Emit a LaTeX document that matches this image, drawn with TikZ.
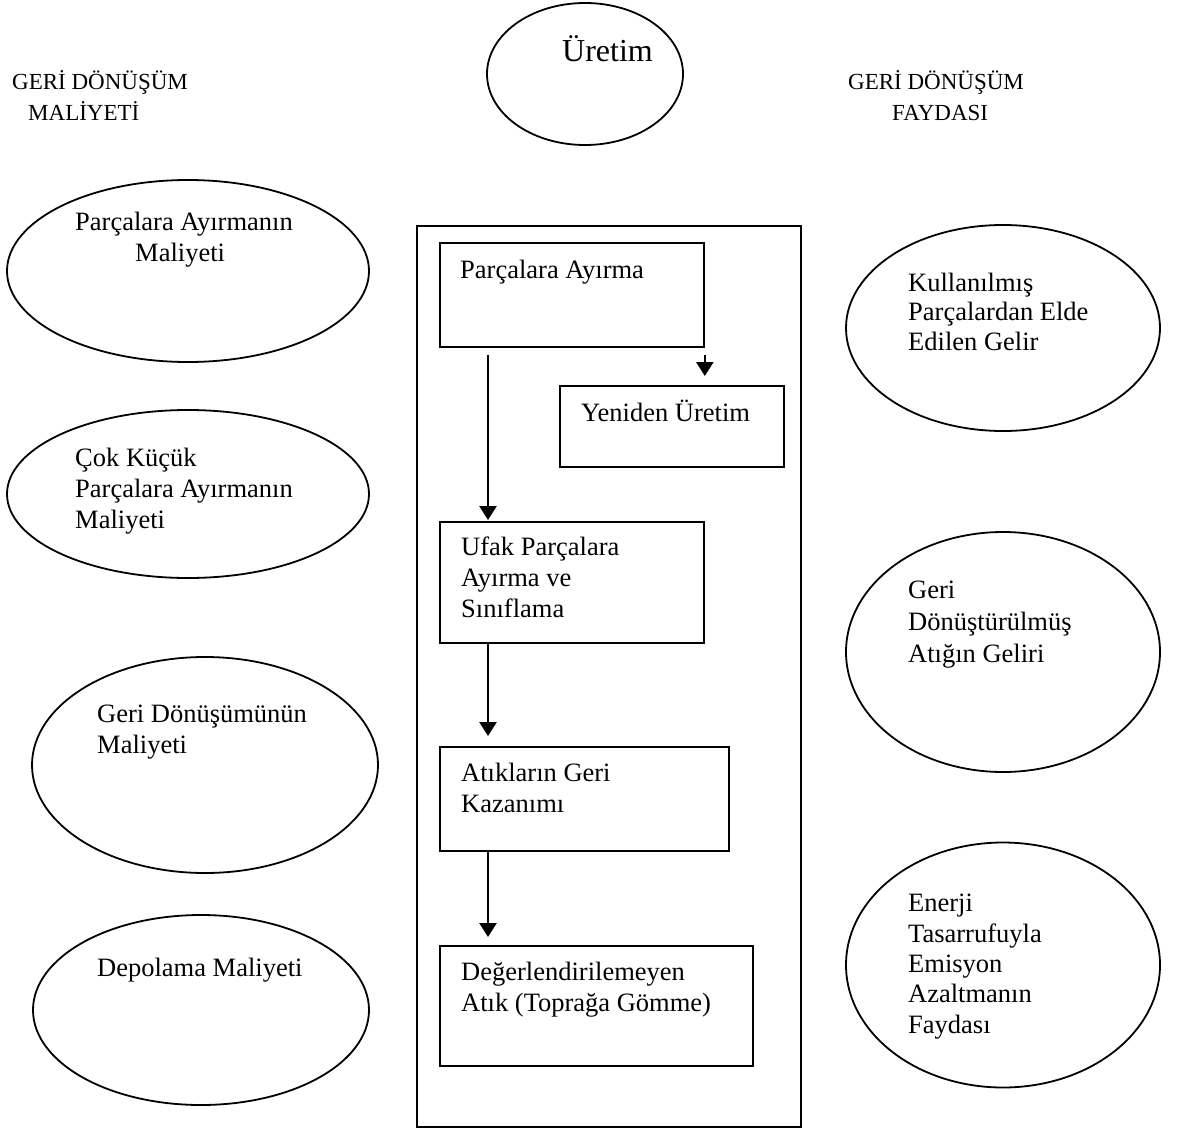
\documentclass[tikz,border=0pt]{standalone}
\usepackage{fontspec}
\setmainfont{Liberation Serif}
\usetikzlibrary{shapes.geometric,arrows.meta,calc}
\begin{document}
\begin{tikzpicture}[x=1pt,y=-1pt,
  oval/.style={draw,ellipse,line width=1.8pt,inner sep=0pt},
  stage/.style={draw,rectangle,line width=1.8pt,inner sep=0pt,anchor=north west},
  % multi-line labels are placed by the baseline of their last line
  lbl/.style={inner sep=0pt,anchor=base west,align=left,font=\fontsize{26.5pt}{31pt}\selectfont},
  head/.style={inner sep=0pt,anchor=base west,align=left,font=\fontsize{23pt}{31pt}\selectfont},
  flow/.style={line width=2.5pt,-{Triangle[width=17pt,length=14pt]}}
]
\useasboundingbox (0,0) rectangle (1182,1129);

% column headings
\node[head] (hcost) at (12,121) {GERİ DÖNÜŞÜM\\\hspace*{16pt}MALİYETİ};
\node[head] (hgain) at (848,121) {GERİ DÖNÜŞÜM\\\hspace*{44pt}FAYDASI};

% production
\node[oval,minimum width=196pt,minimum height=142pt] (uretim) at (585,74) {};
\node[inner sep=0pt,anchor=base west,font=\fontsize{32pt}{38pt}\selectfont] (turetim) at (562,62) {Üretim};

% cost ellipses
\node[oval,minimum width=362pt,minimum height=182pt] (c1) at (188,271) {};
\node[lbl] (tc1) at (75,261) {Parçalara Ayırmanın\\\hspace*{60pt}Maliyeti};
\node[oval,minimum width=362pt,minimum height=168pt] (c2) at (188,494) {};
\node[lbl] (tc2) at (75,528) {Çok Küçük\\Parçalara Ayırmanın\\Maliyeti};
\node[oval,minimum width=346pt,minimum height=216pt] (c3) at (205,765) {};
\node[lbl] (tc3) at (97,753) {Geri Dönüşümünün\\Maliyeti};
\node[oval,minimum width=336pt,minimum height=190pt] (c4) at (201,1010) {};
\node[lbl] (tc4) at (97,976) {Depolama Maliyeti};

% benefit ellipses
\node[oval,minimum width=314pt,minimum height=206pt] (g1) at (1003,328) {};
\node[lbl,font=\fontsize{26.5pt}{29.5pt}\selectfont] (tg1) at (908,350) {Kullanılmış\\Parçalardan Elde\\Edilen Gelir};
\node[oval,minimum width=314pt,minimum height=240pt] (g2) at (1003,652) {};
\node[lbl,font=\fontsize{26.5pt}{32pt}\selectfont] (tg2) at (908,662) {Geri\\Dönüştürülmüş\\Atığın Geliri};
\node[oval,minimum width=314pt,minimum height=245pt] (g3) at (1003,965) {};
\node[lbl,font=\fontsize{26.5pt}{30.3pt}\selectfont] (tg3) at (908,1033) {Enerji\\Tasarrufuyla\\Emisyon\\Azaltmanın\\Faydası};

% process frame and stages
\node[stage,minimum width=384pt,minimum height=901pt] (frame) at (416,225) {};
\node[stage,minimum width=264pt,minimum height=104pt] (b1) at (439,242) {};
\node[lbl] (tb1) at (460,278) {Parçalara Ayırma};
\node[stage,minimum width=224pt,minimum height=81pt] (b2) at (559,385) {};
\node[lbl] (tb2) at (581,421) {Yeniden Üretim};
\node[stage,minimum width=264pt,minimum height=121pt] (b3) at (439,521) {};
\node[lbl] (tb3) at (461,617) {Ufak Parçalara\\Ayırma ve\\Sınıflama};
\node[stage,minimum width=289pt,minimum height=104pt] (b4) at (439,746) {};
\node[lbl] (tb4) at (461,812) {Atıkların Geri\\Kazanımı};
\node[stage,minimum width=313pt,minimum height=120pt] (b5) at (439,945) {};
\node[lbl] (tb5) at (461,1011) {Değerlendirilemeyen\\Atık (Toprağa Gömme)};

% flow arrows
\draw[flow] ($(b1.south east)+(0,7)$) -- ($(b1.south east |- b2.north)+(0,-9)$);
\draw[flow] ($(b1.south west)+(49,7)$) -- ($(b3.north west)+(49,-1)$);
\draw[flow] ($(b3.south west)+(49,0)$) -- ($(b4.north west)+(49,-10)$);
\draw[flow] ($(b4.south west)+(49,0)$) -- ($(b5.north west)+(49,-8)$);
\end{tikzpicture}
\end{document}
